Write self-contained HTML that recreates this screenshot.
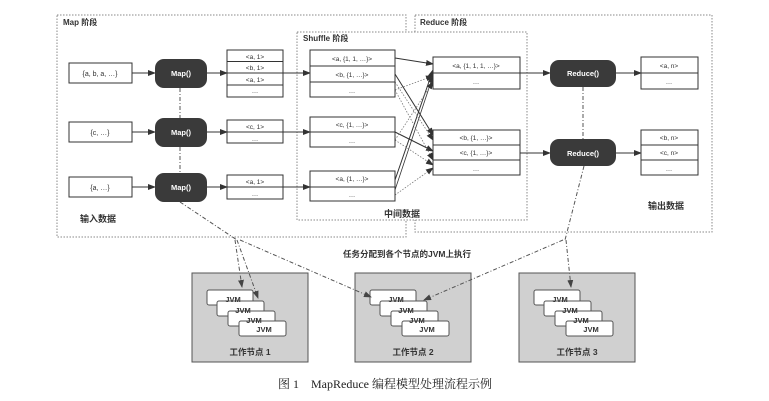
<!DOCTYPE html>
<html><head><meta charset="utf-8"><style>
body{margin:0;background:#fff}
svg{display:block}
text{font-family:"Liberation Sans","Noto Sans CJK SC",sans-serif;fill:#333}
.b{font-weight:bold}
</style></head><body>
<svg width="769" height="401" viewBox="0 0 769 401" xmlns="http://www.w3.org/2000/svg" font-size="7">
<defs>
<marker id="a" markerWidth="8" markerHeight="6" refX="7" refY="3" orient="auto" markerUnits="userSpaceOnUse"><path d="M0,0L8,3L0,6z" fill="#333"/></marker>
<marker id="d" markerWidth="8" markerHeight="6" refX="7" refY="3" orient="auto" markerUnits="userSpaceOnUse"><path d="M0,0L8,3L0,6z" fill="#444" stroke="none"/></marker>
</defs>
<g fill="none" stroke="#888" stroke-width="1" stroke-dasharray="1.5,1.5">
<rect x="57" y="15" width="349" height="222"/>
<rect x="415" y="15" width="297" height="217"/>
<rect x="297" y="32" width="230" height="188" fill="#fff"/>
</g>
<text x="63" y="25" class="b" font-size="8">Map 阶段</text>
<text x="420" y="25" class="b" font-size="8">Reduce 阶段</text>
<text x="303" y="41" class="b" font-size="8">Shuffle 阶段</text>
<text x="80" y="222" class="b" font-size="9">输入数据</text>
<text x="384" y="217" class="b" font-size="9">中间数据</text>
<text x="648" y="209" class="b" font-size="9">输出数据</text>

<g fill="none" stroke="#555" stroke-width="1" stroke-dasharray="4,2,1,2">
<line x1="180" y1="88" x2="180" y2="118"/>
<line x1="180" y1="147" x2="180" y2="173"/>
<line x1="583" y1="87" x2="583" y2="139"/>
<path d="M180,202 L237,240"/>
<path d="M584,166 L565,240"/>
</g>

<g stroke="#333" stroke-width="1" fill="none" marker-end="url(#a)">
<line x1="132" y1="73" x2="155" y2="73"/>
<line x1="132" y1="132" x2="155" y2="132"/>
<line x1="132" y1="187" x2="155" y2="187"/>
<line x1="207" y1="73" x2="227" y2="73"/>
<line x1="207" y1="132" x2="227" y2="132"/>
<line x1="207" y1="187" x2="227" y2="187"/>
<line x1="227" y1="73" x2="310" y2="73"/>
<line x1="227" y1="132" x2="310" y2="132"/>
<line x1="227" y1="187" x2="310" y2="187"/>
<line x1="395" y1="58" x2="433" y2="64"/>
<line x1="395" y1="74" x2="433" y2="135"/>
<line x1="395" y1="132" x2="433" y2="151"/>
<line x1="395" y1="180" x2="433" y2="70"/>
<line x1="395" y1="190" x2="433" y2="76" stroke-width="0.8"/>
<line x1="520" y1="73" x2="550" y2="73"/>
<line x1="520" y1="153" x2="550" y2="153"/>
<line x1="616" y1="73" x2="641" y2="73"/>
<line x1="616" y1="153" x2="641" y2="153"/>
</g>
<g stroke="#777" stroke-width="0.8" fill="none" stroke-dasharray="1.5,1.5" marker-end="url(#a)">
<line x1="395" y1="90" x2="433" y2="76"/>
<line x1="395" y1="90" x2="433" y2="160"/>
<line x1="395" y1="140" x2="433" y2="82"/>
<line x1="395" y1="140" x2="433" y2="165"/>
<line x1="395" y1="195" x2="433" y2="168"/>
<line x1="395" y1="82" x2="433" y2="140"/>
</g>

<g fill="#fff" stroke="#333" stroke-width="1">
<rect x="69" y="63" width="63" height="20"/>
<rect x="69" y="122" width="63" height="20"/>
<rect x="69" y="177" width="63" height="20"/>
</g>
<text x="100" y="76" text-anchor="middle">{a, b, a, …}</text>
<text x="100" y="135" text-anchor="middle">{c, …}</text>
<text x="100" y="190" text-anchor="middle">{a, …}</text>

<g fill="#3a3a3a">
<rect x="155" y="59" width="52" height="29" rx="9"/>
<rect x="155" y="118" width="52" height="29" rx="9"/>
<rect x="155" y="173" width="52" height="29" rx="9"/>
<rect x="550" y="60" width="66" height="27" rx="9"/>
<rect x="550" y="139" width="66" height="27" rx="9"/>
</g>
<g text-anchor="middle" font-size="7.5">
<text x="181" y="76" style="fill:#fff" class="b">Map()</text>
<text x="181" y="135" style="fill:#fff" class="b">Map()</text>
<text x="181" y="190" style="fill:#fff" class="b">Map()</text>
<text x="583" y="76" style="fill:#fff" class="b">Reduce()</text>
<text x="583" y="156" style="fill:#fff" class="b">Reduce()</text>
</g>

<g fill="#fff" stroke="#333" stroke-width="1">
<rect x="227" y="50" width="56" height="47"/>
<rect x="227" y="120" width="56" height="23"/>
<rect x="227" y="175" width="56" height="24"/>
<rect x="310" y="50" width="85" height="47"/>
<rect x="310" y="117" width="85" height="30"/>
<rect x="310" y="171" width="85" height="30"/>
<rect x="433" y="57" width="87" height="32"/>
<rect x="433" y="130" width="87" height="45"/>
<rect x="641" y="57" width="57" height="32"/>
<rect x="641" y="130" width="57" height="45"/>
</g>
<g stroke="#333" stroke-width="1">
<line x1="227" y1="61.5" x2="283" y2="61.5"/><line x1="227" y1="73" x2="283" y2="73"/><line x1="227" y1="85" x2="283" y2="85"/>
<line x1="227" y1="132" x2="283" y2="132"/>
<line x1="227" y1="187" x2="283" y2="187"/>
<line x1="310" y1="66" x2="395" y2="66"/><line x1="310" y1="82" x2="395" y2="82"/>
<line x1="310" y1="132" x2="395" y2="132"/>
<line x1="310" y1="187" x2="395" y2="187"/>
<line x1="433" y1="73" x2="520" y2="73"/>
<line x1="433" y1="145" x2="520" y2="145"/><line x1="433" y1="160" x2="520" y2="160"/>
<line x1="641" y1="73" x2="698" y2="73"/>
<line x1="641" y1="145" x2="698" y2="145"/><line x1="641" y1="160" x2="698" y2="160"/>
</g>
<g text-anchor="middle" font-size="6.5">
<text x="255" y="59">&lt;a, 1&gt;</text><text x="255" y="70">&lt;b, 1&gt;</text><text x="255" y="82">&lt;a, 1&gt;</text><text x="255" y="93">…</text>
<text x="255" y="129">&lt;c, 1&gt;</text><text x="255" y="141">…</text>
<text x="255" y="184">&lt;a, 1&gt;</text><text x="255" y="196">…</text>
<text x="352" y="61">&lt;a, {1, 1, …}&gt;</text><text x="352" y="77">&lt;b, {1, …}&gt;</text><text x="352" y="93">…</text>
<text x="352" y="127">&lt;c, {1, …}&gt;</text><text x="352" y="143">…</text>
<text x="352" y="181">&lt;a, {1, …}&gt;</text><text x="352" y="197">…</text>
<text x="476" y="68">&lt;a, {1, 1, 1, …}&gt;</text><text x="476" y="84">…</text>
<text x="476" y="140">&lt;b, {1, …}&gt;</text><text x="476" y="155">&lt;c, {1, …}&gt;</text><text x="476" y="171">…</text>
<text x="669" y="68">&lt;a, n&gt;</text><text x="669" y="84">…</text>
<text x="669" y="140">&lt;b, n&gt;</text><text x="669" y="155">&lt;c, n&gt;</text><text x="669" y="171">…</text>
</g>

<text x="407" y="257" text-anchor="middle" class="b" font-size="8.5">任务分配到各个节点的JVM上执行</text>

<g fill="#d0d0d0" stroke="#555" stroke-width="1">
<rect x="192" y="273" width="116" height="89"/>
<rect x="355" y="273" width="116" height="89"/>
<rect x="519" y="273" width="116" height="89"/>
</g>
<g fill="#fff" stroke="#555" stroke-width="1">
<rect x="207" y="290" width="46" height="15" rx="2"/><rect x="217" y="301" width="47" height="15" rx="2"/><rect x="228" y="311" width="47" height="15" rx="2"/><rect x="239" y="321" width="47" height="15" rx="2"/>
<rect x="370" y="290" width="46" height="15" rx="2"/><rect x="380" y="301" width="47" height="15" rx="2"/><rect x="391" y="311" width="47" height="15" rx="2"/><rect x="402" y="321" width="47" height="15" rx="2"/>
<rect x="534" y="290" width="46" height="15" rx="2"/><rect x="544" y="301" width="47" height="15" rx="2"/><rect x="555" y="311" width="47" height="15" rx="2"/><rect x="566" y="321" width="47" height="15" rx="2"/>
</g>
<g text-anchor="middle" font-size="7.5" class="b">
<text x="233" y="302">JVM</text><text x="243" y="313">JVM</text><text x="254" y="323">JVM</text><text x="264" y="332">JVM</text>
<text x="396" y="302">JVM</text><text x="406" y="313">JVM</text><text x="417" y="323">JVM</text><text x="427" y="332">JVM</text>
<text x="560" y="302">JVM</text><text x="570" y="313">JVM</text><text x="581" y="323">JVM</text><text x="591" y="332">JVM</text>
</g>
<g fill="none" stroke="#555" stroke-width="1" stroke-dasharray="4,2,1,2">
<path d="M235,240 L242,287" marker-end="url(#d)"/>
<path d="M237,240 L258,298" marker-end="url(#d)"/>
<path d="M240,240 L371,297" marker-end="url(#d)"/>
<path d="M563,240 L424,300" marker-end="url(#d)"/>
<path d="M566,240 L571,287" marker-end="url(#d)"/>
</g>
<g text-anchor="middle" font-size="8.5" class="b">
<text x="250" y="355">工作节点 1</text>
<text x="413" y="355">工作节点 2</text>
<text x="577" y="355">工作节点 3</text>
</g>
<text x="385" y="388" text-anchor="middle" font-size="12" style="font-family:'Liberation Serif','Noto Serif CJK SC',serif;fill:#222">图 1　MapReduce 编程模型处理流程示例</text>
</svg>
</body></html>
